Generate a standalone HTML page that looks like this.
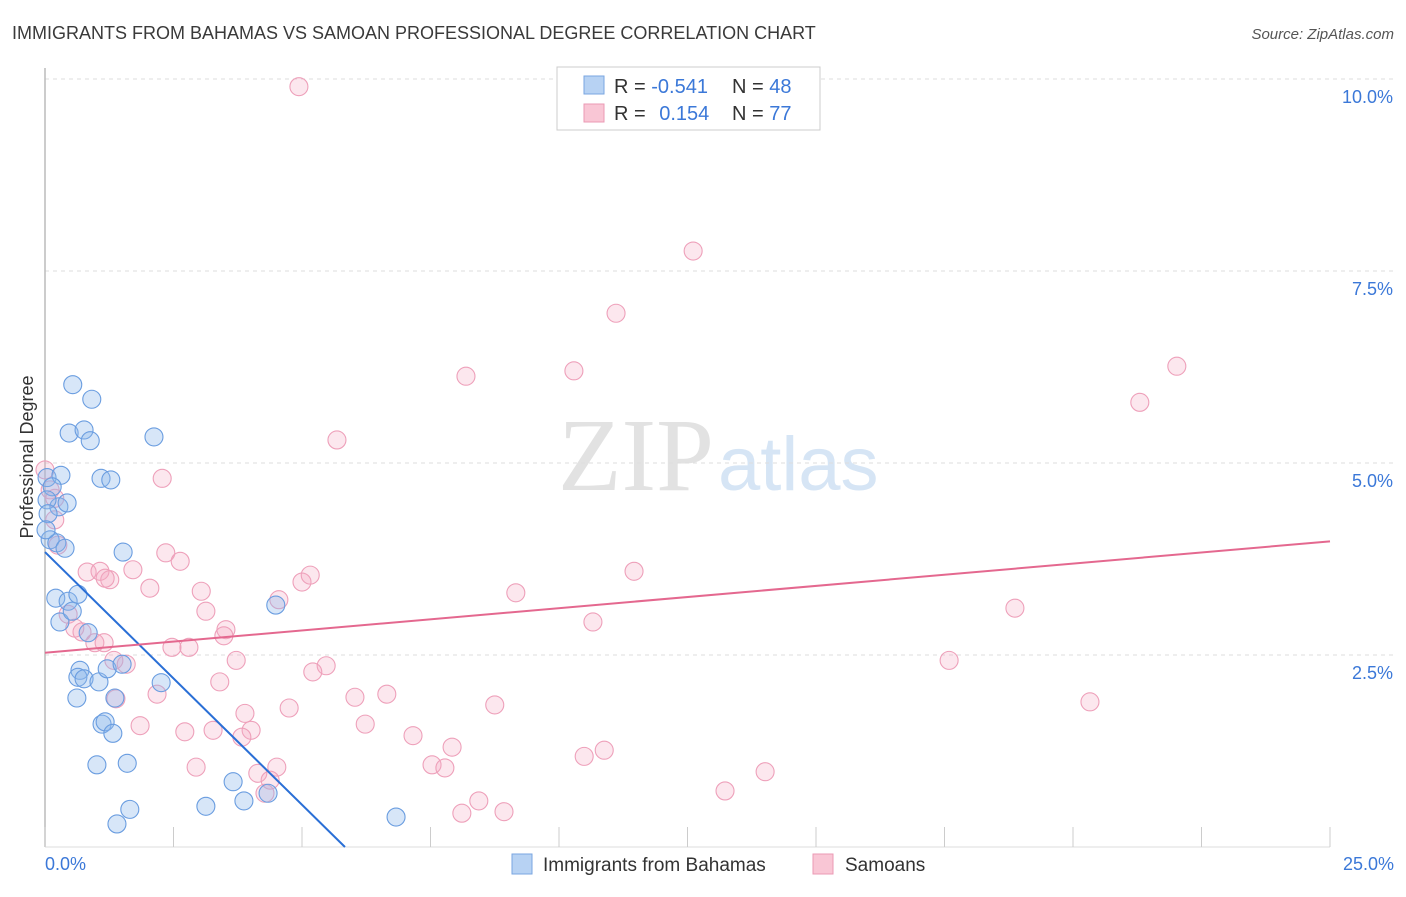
<!DOCTYPE html>
<html><head><meta charset="utf-8"><style>
body{margin:0;background:#fff;font-family:"Liberation Sans",sans-serif;}
svg text{font-family:"Liberation Sans",sans-serif;}
</style></head><body>
<svg id="chart" width="1406" height="892" viewBox="0 0 1406 892">
<text x="12" y="39" font-size="18" fill="#3a3a3a">IMMIGRANTS FROM BAHAMAS VS SAMOAN PROFESSIONAL DEGREE CORRELATION CHART</text>
<text x="1394" y="39" font-size="15" fill="#555" font-style="italic" text-anchor="end">Source: ZipAtlas.com</text>
<text x="714" y="490" font-size="104" fill="#e2e2e2" text-anchor="end" style="font-family:'Liberation Serif',serif">ZIP</text>
<text x="718" y="490" font-size="76" fill="#d6e5f5">atlas</text>
<g id="grid"></g>
<line x1="45" y1="68" x2="45" y2="847" stroke="#bbb" stroke-width="1.5"/>
<line x1="45" y1="847" x2="1330" y2="847" stroke="#ddd"/>
<g id="ticks"></g>
<g id="pts"></g>
<g id="trends"></g>
<text x="33" y="457" font-size="18" fill="#333" text-anchor="middle" transform="rotate(-90 33 457)">Professional Degree</text>
<text x="45" y="870" font-size="18" fill="#3b78d8">0.0%</text>
<text x="1394" y="870" font-size="18" fill="#3b78d8" text-anchor="end">25.0%</text>
<g>
<rect x="557" y="67" width="263" height="63" fill="#fff" stroke="#ccc"/>
<rect x="584" y="76" width="20" height="18" fill="#b7d2f3" stroke="#7aa6e0"/>
<rect x="584" y="104" width="20" height="18" fill="#f9c6d5" stroke="#eb9ab4"/>
<text x="614" y="93" font-size="20" fill="#333">R = <tspan fill="#3b78d8">-0.541</tspan></text>
<text x="732" y="93" font-size="20" fill="#333">N = <tspan fill="#3b78d8">48</tspan></text>
<text x="614" y="120" font-size="20" fill="#333">R = <tspan fill="#3b78d8" dx="8">0.154</tspan></text>
<text x="732" y="120" font-size="20" fill="#333">N = <tspan fill="#3b78d8">77</tspan></text>
</g>
<g>
<rect x="512" y="854" width="20" height="20" fill="#b7d2f3" stroke="#7aa6e0"/>
<text x="543" y="871" font-size="19" fill="#333">Immigrants from Bahamas</text>
<rect x="813" y="854" width="20" height="20" fill="#f9c6d5" stroke="#eb9ab4"/>
<text x="845" y="871" font-size="19" fill="#333">Samoans</text>
</g>
</svg>
<script>
const yTicks=[2.5,5.0,7.5,10.0];
const yTickLabels=["2.5%","5.0%","7.5%","10.0%"];
const xTicks=[0,2.5,5,7.5,10,12.5,15,17.5,20,22.5,25];
const bahamasX=[0.54,0.91,0.47,0.76,0.88,2.12,0.04,0.31,1.09,1.28,0.27,0.43,0.10,0.23,0.39,1.52,4.49,0.21,0.45,0.64,0.29,0.53,0.84,0.68,0.64,0.76,1.05,1.21,1.50,0.62,1.36,1.11,1.17,1.32,2.26,1.01,1.60,1.65,1.40,3.13,3.66,3.87,4.34,6.83,0.14,0.04,0.06,0.02];
const bahamasY=[6.02,5.83,5.39,5.43,5.29,5.34,4.81,4.84,4.80,4.78,4.43,4.48,4.00,3.96,3.89,3.84,3.15,3.24,3.20,3.29,2.93,3.07,2.79,2.30,2.21,2.19,2.15,2.32,2.38,1.94,1.94,1.60,1.63,1.48,2.14,1.07,1.09,0.49,0.30,0.53,0.85,0.60,0.70,0.39,4.69,4.52,4.34,4.13];
const samoanX=[4.94,12.61,11.11,10.29,8.19,22.02,21.30,5.68,2.28,0.19,0.19,0.25,2.35,2.63,0.82,1.07,1.26,1.17,1.71,2.04,3.04,3.13,5.00,5.16,4.55,9.16,11.46,10.66,18.87,0.45,0.58,0.72,0.97,1.15,1.34,1.58,2.47,2.80,3.52,3.48,3.72,5.47,5.21,3.40,2.18,1.38,1.85,2.72,3.27,3.89,4.01,3.83,4.75,6.03,6.65,6.23,8.75,7.16,7.92,7.53,7.78,10.49,10.88,2.94,4.14,4.51,4.38,4.28,8.44,8.11,8.93,13.23,14.01,17.59,20.33,0.00,0.10];
const samoanY=[9.90,7.76,6.95,6.20,6.13,6.26,5.79,5.30,4.80,4.54,4.26,3.93,3.83,3.72,3.58,3.59,3.48,3.50,3.61,3.37,3.33,3.07,3.45,3.54,3.22,3.31,3.59,2.93,3.11,3.03,2.85,2.80,2.66,2.66,2.43,2.38,2.60,2.60,2.83,2.75,2.43,2.36,2.28,2.15,1.99,1.93,1.58,1.50,1.52,1.74,1.52,1.43,1.81,1.95,1.99,1.60,1.85,1.45,1.30,1.07,1.03,1.18,1.26,1.04,0.96,1.04,0.87,0.70,0.60,0.44,0.46,0.73,0.98,2.43,1.89,4.91,4.65];
const bahamasTrend=[3.84,-0.658];
const samoanTrend=[2.53,0.058];
const NS="http://www.w3.org/2000/svg";
const sx=v=>45+v*51.4, sy=v=>847-v*76.8;
function mk(t,a,p){const e=document.createElementNS(NS,t);for(const k in a)e.setAttribute(k,a[k]);p.appendChild(e);return e;}
const grid=document.getElementById('grid');
yTicks.forEach((t,i)=>{
 const l=mk('line',{x1:45,x2:1394,y1:sy(t),y2:sy(t),stroke:'#ddd','stroke-dasharray':'4,4'},grid);
 
 
 const tx=mk('text',{x:1393,y:sy(t)+24,'font-size':18,fill:'#3b78d8','text-anchor':'end'},grid);
 tx.textContent=yTickLabels[i];
 
 
});
const tk=document.getElementById('ticks');
xTicks.forEach(t=>{
 const l=mk('line',{x1:sx(t),x2:sx(t),y1:827,y2:847,stroke:'#ccc'},tk);
 
 
});
const pts=document.getElementById('pts');
function draw(X,Y,fill,stroke,name){X.forEach((x,i)=>{
 const c=mk('circle',{cx:sx(x),cy:sy(Y[i]),r:9,fill:fill,stroke:stroke,'stroke-width':1.1},pts);
 
 
});}
draw(samoanX,samoanY,'rgba(246,170,195,0.28)','#eea0ba','samoan-point');
draw(bahamasX,bahamasY,'rgba(140,182,235,0.35)','#6a9de0','bahamas-point');
const tr=document.getElementById('trends');
const bEnd=-bahamasTrend[0]/bahamasTrend[1];
const bl=mk('line',{x1:sx(0),y1:sy(bahamasTrend[0]),x2:sx(bEnd),y2:sy(0),stroke:'#2a6fd6','stroke-width':2},tr);


const pl=mk('line',{x1:sx(0),y1:sy(samoanTrend[0]),x2:sx(25),y2:sy(samoanTrend[0]+25*samoanTrend[1]),stroke:'#e4688f','stroke-width':2},tr);


</script>
</body></html>
